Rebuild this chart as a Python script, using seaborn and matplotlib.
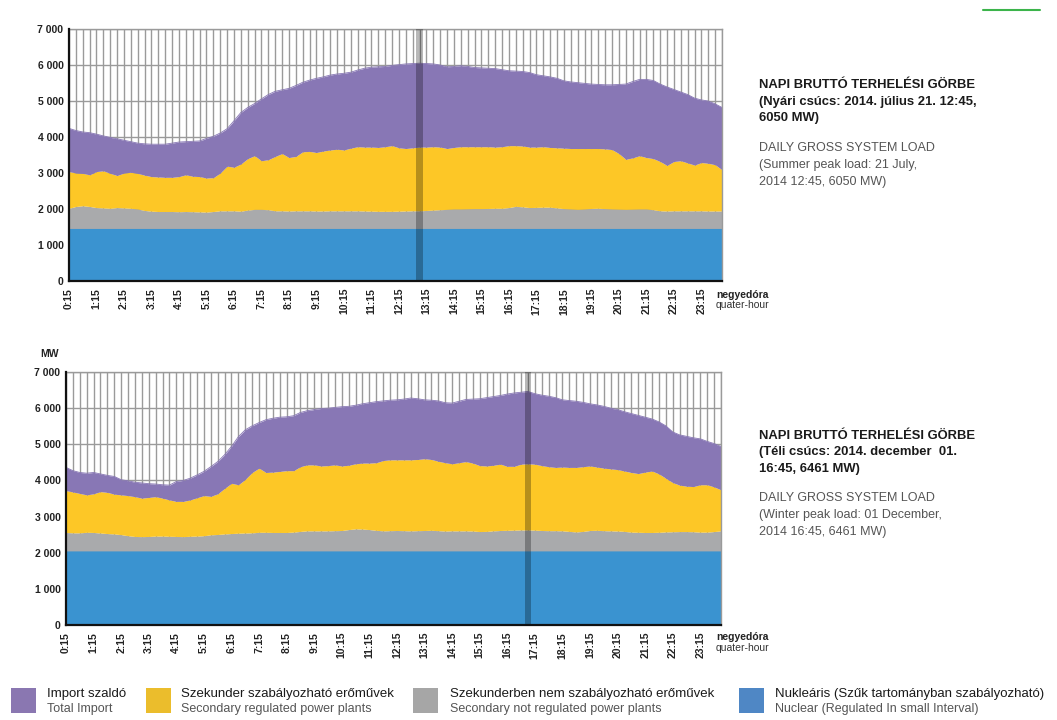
import numpy as np
import matplotlib
matplotlib.use("Agg")
import matplotlib.pyplot as plt
import seaborn as sns
from matplotlib.patches import Rectangle
from matplotlib.lines import Line2D

# ---------------- data (MW, quarter-hour resolution, stack levels) ----------------
hour_labels = ["0:15", "1:15", "2:15", "3:15", "4:15", "5:15", "6:15", "7:15",
               "8:15", "9:15", "10:15", "11:15", "12:15", "13:15", "14:15", "15:15",
               "16:15", "17:15", "18:15", "19:15", "20:15", "21:15", "22:15", "23:15"]
y_tick_values = [0, 1000, 2000, 3000, 4000, 5000, 6000, 7000]
y_tick_labels = ["0", "1 000", "2 000", "3 000", "4 000", "5 000", "6 000", "7 000"]

# Summer day (2014-07-21)
summer_nuclear = [1460, 1460, 1460, 1460, 1460, 1460, 1460, 1460, 1460, 1460, 1460, 1460,
                  1460, 1460, 1460, 1460, 1460, 1460, 1460, 1460, 1460, 1460, 1460, 1460,
                  1460, 1460, 1460, 1460, 1460, 1460, 1460, 1460, 1460, 1460, 1460, 1460,
                  1460, 1460, 1460, 1460, 1460, 1460, 1460, 1460, 1460, 1460, 1460, 1460,
                  1460, 1460, 1460, 1460, 1460, 1460, 1460, 1460, 1460, 1460, 1460, 1460,
                  1460, 1460, 1460, 1460, 1460, 1460, 1460, 1460, 1460, 1460, 1460, 1460,
                  1460, 1460, 1460, 1460, 1460, 1460, 1460, 1460, 1460, 1460, 1460, 1460,
                  1460, 1460, 1460, 1460, 1460, 1460, 1460, 1460, 1460, 1460, 1460, 1460]
summer_level_nonregulated = [
    2020, 2070, 2090, 2070, 2040, 2030, 2020, 2040, 2030, 2020,
    2000, 1960, 1940, 1930, 1930, 1930, 1925, 1930, 1925, 1920,
    1915, 1930, 1950, 1950, 1950, 1940, 1970, 1990, 1990, 1980,
    1950, 1950, 1945, 1950, 1950, 1950, 1945, 1945, 1950, 1950,
    1950, 1950, 1950, 1945, 1940, 1935, 1935, 1935, 1940, 1945,
    1950, 1950, 1960, 1970, 1980, 1990, 2000, 2000, 2005, 2010,
    2010, 2015, 2020, 2020, 2040, 2075, 2060, 2040, 2045, 2050,
    2050, 2030, 2010, 2000, 1990, 2000, 2015, 2020, 2010, 2000,
    1995, 1990, 1995, 2000, 2000, 1980, 1950, 1945, 1950, 1950,
    1950, 1950, 1950, 1945, 1945, 1945]
summer_level_regulated = [
    3040, 3000, 2990, 2950, 3040, 3060, 2990, 2930, 3000, 3020,
    2990, 2940, 2900, 2890, 2880, 2880, 2900, 2950, 2910, 2900,
    2860, 2870, 3000, 3190, 3160, 3250, 3400, 3480, 3340, 3370,
    3460, 3540, 3430, 3460, 3590, 3600, 3570, 3610, 3640, 3660,
    3640, 3690, 3730, 3720, 3720, 3710, 3730, 3760, 3700, 3680,
    3700, 3720, 3720, 3730, 3720, 3680, 3710, 3730, 3730, 3730,
    3730, 3730, 3720, 3730, 3760, 3760, 3750, 3720, 3720, 3730,
    3710, 3700, 3690, 3680, 3680, 3680, 3680, 3680, 3670, 3650,
    3540, 3380, 3420, 3480, 3430, 3400, 3320, 3210, 3320, 3340,
    3280, 3220, 3290, 3270, 3230, 3090]
summer_total_load = [
    4240, 4180, 4140, 4120, 4080, 4030, 3990, 3950, 3910, 3870,
    3830, 3810, 3800, 3800, 3800, 3830, 3860, 3870, 3880, 3890,
    3960, 4020, 4110, 4230, 4450, 4680, 4820, 4930, 5060, 5180,
    5270, 5310, 5350, 5430, 5520, 5580, 5630, 5670, 5720, 5750,
    5770, 5800, 5860, 5910, 5940, 5950, 5960, 5990, 6010, 6030,
    6040, 6050, 6040, 6030, 6000, 5950, 5960, 5980, 5960, 5930,
    5920, 5910, 5900, 5870, 5840, 5830, 5820, 5790, 5730, 5700,
    5670, 5630, 5560, 5530, 5510, 5490, 5470, 5460, 5450, 5450,
    5460, 5470, 5540, 5600, 5600, 5570, 5470, 5390, 5320, 5250,
    5180, 5080, 5030, 5000, 4920, 4820]

# Winter day (2014-12-01)
winter_nuclear = [2050, 2050, 2050, 2050, 2050, 2050, 2050, 2050, 2050, 2050, 2050, 2050,
                  2050, 2050, 2050, 2050, 2050, 2050, 2050, 2050, 2050, 2050, 2050, 2050,
                  2050, 2050, 2050, 2050, 2050, 2050, 2050, 2050, 2050, 2050, 2050, 2050,
                  2050, 2050, 2050, 2050, 2050, 2050, 2050, 2050, 2050, 2050, 2050, 2050,
                  2050, 2050, 2050, 2050, 2050, 2050, 2050, 2050, 2050, 2050, 2050, 2050,
                  2050, 2050, 2050, 2050, 2050, 2050, 2050, 2050, 2050, 2050, 2050, 2050,
                  2050, 2050, 2050, 2050, 2050, 2050, 2050, 2050, 2050, 2050, 2050, 2050,
                  2050, 2050, 2050, 2050, 2050, 2050, 2050, 2050, 2050, 2050, 2050, 2050]
winter_level_nonregulated = [
    2560, 2550, 2550, 2565, 2560, 2545, 2530, 2520, 2500, 2470,
    2450, 2445, 2450, 2460, 2460, 2455, 2450, 2445, 2455, 2460,
    2470, 2495, 2505, 2520, 2530, 2540, 2545, 2550, 2565, 2565,
    2560, 2560, 2560, 2570, 2590, 2605, 2605, 2605, 2605, 2610,
    2615, 2640, 2660, 2655, 2640, 2620, 2605, 2610, 2615, 2610,
    2605, 2610, 2615, 2620, 2610, 2600, 2605, 2605, 2605, 2600,
    2585, 2590, 2605, 2615, 2620, 2625, 2630, 2630, 2625, 2615,
    2610, 2610, 2605, 2590, 2575, 2590, 2615, 2620, 2610, 2605,
    2600, 2590, 2570, 2565, 2560, 2560, 2565, 2575, 2580, 2585,
    2585, 2580, 2570, 2570, 2585, 2605]
winter_level_regulated = [
    3720, 3680, 3640, 3600, 3630, 3690, 3670, 3620, 3600, 3580,
    3550, 3510, 3530, 3550, 3510, 3460, 3420, 3420, 3460, 3520,
    3580, 3560, 3630, 3780, 3920, 3880, 4030, 4220, 4340, 4220,
    4230, 4250, 4270, 4270, 4380, 4430, 4430, 4400, 4410, 4430,
    4400, 4420, 4460, 4480, 4480, 4490, 4550, 4570, 4570, 4570,
    4570, 4580, 4600, 4580, 4530, 4490, 4460, 4490, 4520, 4480,
    4410, 4400, 4420, 4450, 4390, 4390, 4450, 4460, 4450, 4410,
    4380, 4360, 4370, 4360, 4360, 4380, 4400, 4370, 4340, 4320,
    4300, 4260, 4220, 4190, 4230, 4260, 4180, 4060, 3940, 3870,
    3840, 3830, 3880, 3880, 3820, 3740]
winter_total_load = [
    4360, 4270, 4220, 4200, 4220, 4180, 4140, 4110, 4020, 3990,
    3950, 3930, 3910, 3900, 3880, 3870, 3970, 4000, 4060, 4150,
    4250, 4380, 4520, 4710, 4940, 5210, 5400, 5510, 5600, 5680,
    5720, 5750, 5760, 5790, 5880, 5930, 5960, 5990, 6000, 6020,
    6040, 6050, 6080, 6120, 6150, 6180, 6200, 6220, 6230, 6250,
    6280, 6260, 6230, 6220, 6200, 6150, 6140, 6190, 6240, 6250,
    6260, 6290, 6320, 6350, 6390, 6420, 6440, 6461, 6400, 6360,
    6330, 6290, 6230, 6210, 6190, 6160, 6120, 6090, 6050, 6000,
    5960, 5900, 5850, 5800, 5750, 5700, 5620, 5510, 5340, 5260,
    5220, 5180, 5150, 5080, 5020, 4940]

summer_peak_index = 51
winter_peak_index = 67

legend_hu = ["Import szaldó", "Szekunder szabályozható erőművek",
             "Szekunderben nem szabályozható erőművek",
             "Nukleáris (Szűk tartományban szabályozható)"]
legend_en = ["Total Import", "Secondary regulated power plants",
             "Secondary not regulated power plants",
             "Nuclear (Regulated In small Interval)"]

summer_title = "NAPI BRUTTÓ TERHELÉSI GÖRBE\n(Nyári csúcs: 2014. július 21. 12:45,\n6050 MW)"
summer_sub = "DAILY GROSS SYSTEM LOAD\n(Summer peak load: 21 July,\n2014 12:45, 6050 MW)"
winter_title = "NAPI BRUTTÓ TERHELÉSI GÖRBE\n(Téli csúcs: 2014. december  01.\n16:45, 6461 MW)"
winter_sub = "DAILY GROSS SYSTEM LOAD\n(Winter peak load: 01 December,\n2014 16:45, 6461 MW)"

# ---------------- style ----------------
PURPLE = "#8877b5"
YELLOW = "#fdc726"
GRAY = "#a9aaac"
BLUE = "#3a93d0"
LEG_COLORS = ["#8a77b1", "#ebbd2c", "#a6a6a6", "#4f87c5"]
GRID = "#9a9a9a"

sns.set_theme(style="white")
plt.rcParams["font.family"] = ["Liberation Sans", "DejaVu Sans"]

W, H = 1057, 720
fig = plt.figure(figsize=(W / 100, H / 100), dpi=100)


def px_axes(x0, y0, x1, y1):
    return fig.add_axes([x0 / W, 1 - y1 / H, (x1 - x0) / W, (y1 - y0) / H])


def draw_panel(ax, nuclear, lvl_nonreg, lvl_reg, total, peak_i):
    x = np.arange(len(total))
    nuclear = np.asarray(nuclear)
    ax.fill_between(x, 0, nuclear, color=BLUE, lw=0, zorder=2)
    ax.fill_between(x, nuclear, lvl_nonreg, color=GRAY, lw=0, zorder=2)
    ax.fill_between(x, lvl_nonreg, lvl_reg, color=YELLOW, lw=0, zorder=2)
    ax.fill_between(x, lvl_reg, total, color=PURPLE, lw=0, zorder=2)
    sns.lineplot(x=x, y=total, ax=ax, color=PURPLE, lw=0.6, zorder=3)
    ax.axvspan(peak_i - 0.5, peak_i + 0.5, color="black", alpha=0.28, lw=0, zorder=4)

    ax.set_xlim(0, len(total) - 1)
    ax.set_ylim(0, 7000)
    ax.set_xticks(x)
    labels = [""] * len(x)
    for k, lab in enumerate(hour_labels):
        labels[4 * k] = lab
    ax.set_xticklabels(labels, rotation=90, fontsize=7.5, fontweight="bold",
                       color="#222222")
    ax.set_yticks(y_tick_values)
    ax.set_yticklabels(y_tick_labels, fontsize=7.5, fontweight="bold", color="#222222")
    ax.tick_params(axis="x", direction="out", length=3, width=0.8, color="#222222", pad=2)
    ax.tick_params(axis="y", length=0, pad=4)
    ax.set_axisbelow(True)
    ax.grid(True, color=GRID, lw=1.0)
    for s in ["left", "bottom"]:
        ax.spines[s].set_color("#111111")
        ax.spines[s].set_linewidth(1.6)
        ax.spines[s].set_zorder(5)
    for s in ["top", "right"]:
        ax.spines[s].set_color(GRID)
        ax.spines[s].set_linewidth(1.0)
    ax.set_xlabel("")
    ax.set_ylabel("")


ax1 = px_axes(69, 29, 722, 281)
draw_panel(ax1, summer_nuclear, summer_level_nonregulated, summer_level_regulated,
           summer_total_load, summer_peak_index)
ax2 = px_axes(66, 372, 721, 625)
draw_panel(ax2, winter_nuclear, winter_level_nonregulated, winter_level_regulated,
           winter_total_load, winter_peak_index)


def ftext(x, y, s, **kw):
    fig.text(x / W, 1 - y / H, s, **kw)


# axis unit labels
ftext(42, 5, "MW", fontsize=7.5, fontweight="bold", va="center", color="#222222")
fig.add_artist(Rectangle((0, 1 - 9 / H), 80 / W, 9 / H, transform=fig.transFigure,
                         facecolor="white", edgecolor="none", zorder=10))
ftext(40, 354, "MW", fontsize=7.5, fontweight="bold", va="center", color="#222222")
for (yb, yq) in [(295, 305), (637, 648)]:
    ftext(716, yb, "negyedóra", fontsize=7.5, fontweight="bold", va="center", color="#222222")
    ftext(716, yq, "quater-hour", fontsize=7.5, va="center", color="#333333")

# side texts
ftext(759, 79, summer_title, fontsize=9.4, fontweight="bold", va="top", linespacing=1.5,
      color="#1a1a1a")
ftext(759, 142, summer_sub, fontsize=9, va="top", linespacing=1.55, color="#555555")
ftext(759, 430, winter_title, fontsize=9.4, fontweight="bold", va="top", linespacing=1.5,
      color="#1a1a1a")
ftext(759, 492, winter_sub, fontsize=9, va="top", linespacing=1.55, color="#555555")

# legend
sw_x = [11, 146, 413, 739]
tx_x = [47, 181, 450, 775]
for c, sx, tx, hu, en in zip(LEG_COLORS, sw_x, tx_x, legend_hu, legend_en):
    fig.add_artist(Rectangle((sx / W, 1 - 713 / H), 25 / W, 25 / H,
                             transform=fig.transFigure, facecolor=c, edgecolor="none"))
    ftext(tx, 694, hu, fontsize=9.5, va="center", color="#1a1a1a")
    ftext(tx, 709, en, fontsize=9, va="center", color="#555555")

# small green accent line top right
fig.add_artist(Line2D([983 / W, 1040 / W], [1 - 10 / H, 1 - 10 / H],
                      transform=fig.transFigure, color="#3cb44b", lw=1.5))

fig.savefig("out.png", dpi=100)
